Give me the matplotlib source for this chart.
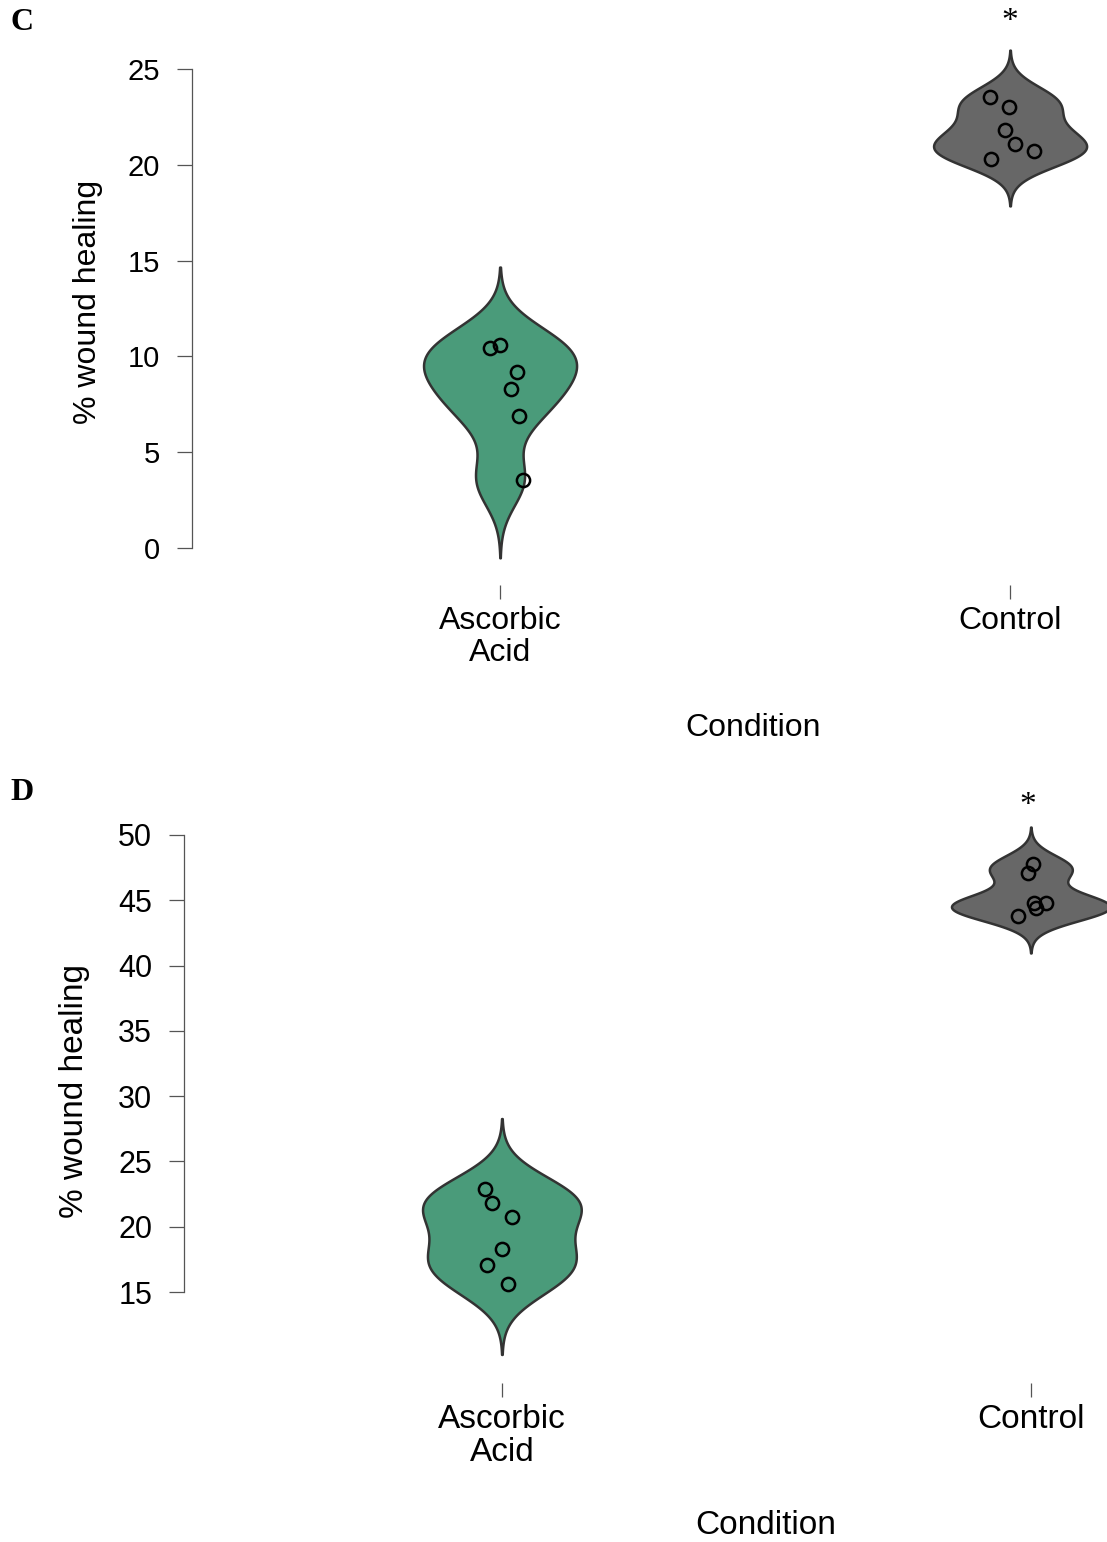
import numpy as np
import matplotlib
matplotlib.use("Agg")
import matplotlib.pyplot as plt

plt.rcParams['font.family'] = ['Liberation Sans', 'DejaVu Sans']

# values
conditions = ["Ascorbic\nAcid", "Control"]

c_ascorbic = [10.44, 10.6, 9.19, 8.3, 6.89, 3.55]
c_control = [23.54, 23.0, 21.8, 21.1, 20.7, 20.3]
c_ascorbic_jit = [-0.020, 0.0, 0.033, 0.022, 0.037, 0.045]
c_control_jit = [-0.039, -0.002, -0.010, 0.010, 0.047, -0.037]

d_ascorbic = [22.89, 21.81, 20.74, 18.29, 17.07, 15.61]
d_control = [47.77, 47.08, 44.79, 44.79, 44.4, 43.79]
d_ascorbic_jit = [-0.032, -0.019, 0.019, 0.0, -0.028, 0.011]
d_control_jit = [0.004, -0.006, 0.006, 0.028, 0.009, -0.025]

c_yticks = [0, 5, 10, 15, 20, 25]
d_yticks = [15, 20, 25, 30, 35, 40, 45, 50]

colors = ["#4a9b7a", "#676767"]
W, H = 1107, 1542


def bw_nrd0(x):
    x = np.asarray(x)
    sd = np.std(x, ddof=1)
    q1, q3 = np.percentile(x, [25, 75])
    lo = min(sd, (q3 - q1) / 1.34)
    return 0.9 * lo * len(x) ** (-0.2)


def violin(ax, pos, vals, color, half=0.15):
    vals = np.asarray(vals)
    bw = bw_nrd0(vals)
    y = np.linspace(vals.min() - 3 * bw, vals.max() + 3 * bw, 400)
    dens = np.exp(-0.5 * ((y[:, None] - vals[None, :]) / bw) ** 2).sum(axis=1)
    dens = dens / dens.max() * half
    ax.fill_betweenx(y, pos - dens, pos + dens, facecolor=color,
                     edgecolor="#333333", linewidth=1.8, zorder=2)


def fig_ax(left, right, top, bottom):
    return fig.add_axes([left / W, 1 - bottom / H, (right - left) / W, (bottom - top) / H])


def style(ax, yticks, ysize, xsize):
    for s in ["top", "right", "bottom"]:
        ax.spines[s].set_visible(False)
    ax.spines["left"].set_bounds(yticks[0], yticks[-1])
    ax.spines["left"].set_color("#555555")
    ax.spines["left"].set_linewidth(0.9)
    ax.set_yticks(yticks)
    ax.set_xticks([0, 1])
    ax.set_xticklabels(conditions, linespacing=1.1)
    ax.tick_params(axis="y", length=11, width=0.9, color="#555555", pad=12, labelsize=ysize)
    ax.tick_params(axis="x", length=10, width=0.9, color="#555555", pad=5, labelsize=xsize)


def points(ax, pos, jit, vals):
    ax.plot(pos + np.array(jit), vals, "o", mfc="none", mec="black", ms=9.5, mew=1.8, zorder=3)


fig = plt.figure(figsize=(W / 100, H / 100), dpi=100)

# panel C
ax = fig_ax(192, 1107, 30, 585)
violin(ax, 0, c_ascorbic, colors[0])
violin(ax, 1, c_control, colors[1])
points(ax, 0, c_ascorbic_jit, c_ascorbic)
points(ax, 1, c_control_jit, c_control)
ax.set_xlim(-0.604, 1.190)
ax.set_ylim((548 - 585) / 19.16, (548 - 30) / 19.16)
style(ax, c_yticks, 21, 23)

# panel D
ax2 = fig_ax(184, 1107, 815, 1383)
violin(ax2, 0, d_ascorbic, colors[0])
violin(ax2, 1, d_control, colors[1])
points(ax2, 0, d_ascorbic_jit, d_ascorbic)
points(ax2, 1, d_control_jit, d_control)
ax2.set_xlim(-0.601, 1.144)
ax2.set_ylim(15 + (1292 - 1383) / 13.06, 15 + (1292 - 815) / 13.06)
style(ax2, d_yticks, 22, 24)


def ftext(x, y, s, **kw):
    fig.text(x / W, 1 - y / H, s, **kw)


ftext(88, 302, "% wound healing", rotation=90, ha="center", va="center", fontsize=23)
ftext(75, 1091, "% wound healing", rotation=90, ha="center", va="center", fontsize=24)
ftext(753, 728, "Condition", ha="center", va="center", fontsize=23)
ftext(766, 1525, "Condition", ha="center", va="center", fontsize=24)

serif = ['Liberation Serif', 'DejaVu Serif']
ftext(10, 22, "C", ha="left", va="center", fontsize=23, fontweight="bold", family=serif)
ftext(10, 793, "D", ha="left", va="center", fontsize=23, fontweight="bold", family=serif)
ftext(1010, 22, "*", ha="center", va="center", fontsize=24, family=serif)
ftext(1028, 806, "*", ha="center", va="center", fontsize=24, family=serif)

fig.savefig("out.png", dpi=100)
